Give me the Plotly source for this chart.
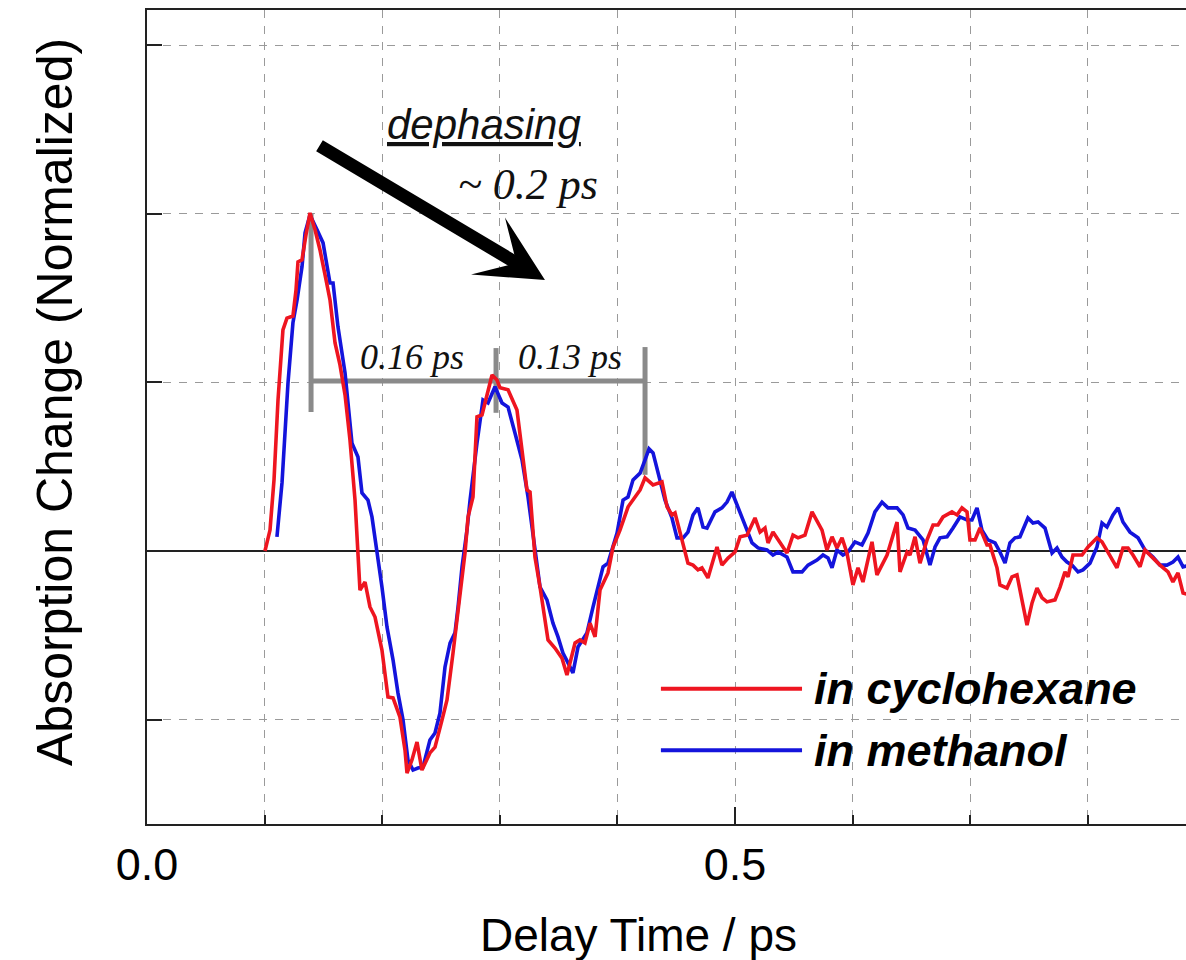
import plotly.graph_objects as go

# ---------------- data (delay time in ps, normalized absorption change) ----------------
cyc_t = [0.1003, 0.1046, 0.108, 0.1114, 0.1156, 0.119, 0.1241, 0.1267, 0.1284, 0.1318, 0.1352, 0.1386,
         0.1429, 0.1471, 0.1514, 0.1556, 0.1599, 0.1641, 0.1684, 0.1726, 0.1769, 0.1786, 0.1811, 0.1854,
         0.1896, 0.1939, 0.1998, 0.2049, 0.2092, 0.2151, 0.2194, 0.2211, 0.2253, 0.2296, 0.2338, 0.2406,
         0.2449, 0.2509, 0.2551, 0.2602, 0.2662, 0.2704, 0.273, 0.2772, 0.2806, 0.2849, 0.2934, 0.2976,
         0.3002, 0.307, 0.3146, 0.3231, 0.3257, 0.3299, 0.3342, 0.341, 0.3469, 0.3529, 0.3571, 0.364,
         0.3682, 0.3724, 0.3767, 0.381, 0.3852, 0.392, 0.3963, 0.4022, 0.4091, 0.4193, 0.4235, 0.4303,
         0.4379, 0.4422, 0.4464, 0.449, 0.4549, 0.46, 0.4643, 0.4685, 0.4719, 0.477, 0.4847, 0.4889,
         0.4941, 0.5, 0.5043, 0.5102, 0.517, 0.5213, 0.5255, 0.5281, 0.5323, 0.5383, 0.5442, 0.5493,
         0.5536, 0.5595, 0.5655, 0.574, 0.5782, 0.5825, 0.5867, 0.591, 0.5952, 0.6003, 0.6046, 0.6088,
         0.6165, 0.6207, 0.6293, 0.6378, 0.6403, 0.6463, 0.6488, 0.6531, 0.6573, 0.6633, 0.6684, 0.6726,
         0.6769, 0.6845, 0.6888, 0.693, 0.6973, 0.6998, 0.7041, 0.7083, 0.7143, 0.7168, 0.7228, 0.7253,
         0.7313, 0.7355, 0.7398, 0.744, 0.7483, 0.7526, 0.7568, 0.7611, 0.7653, 0.7721, 0.7764, 0.7806,
         0.7832, 0.7874, 0.7951, 0.8002, 0.8078, 0.8121, 0.8189, 0.8248, 0.8299, 0.8342, 0.8384, 0.8444,
         0.8486, 0.8554, 0.8614, 0.8682, 0.8724, 0.8767, 0.881, 0.8869]
cyc_a = [0.0, 0.062, 0.211, 0.448, 0.656, 0.691, 0.697, 0.774, 0.858, 0.864, 0.938, 1.003,
         0.953, 0.893, 0.819, 0.745, 0.617, 0.552, 0.463, 0.329, 0.151, 0.047, -0.116, -0.092,
         -0.166, -0.196, -0.294, -0.433, -0.436, -0.493, -0.591, -0.659, -0.62, -0.567, -0.65, -0.599,
         -0.582, -0.501, -0.442, -0.303, -0.125, -0.006, 0.101, 0.16, 0.398, 0.404, 0.522, 0.507,
         0.484, 0.478, 0.418, 0.181, 0.175, -0.018, -0.107, -0.264, -0.288, -0.318, -0.368, -0.273,
         -0.264, -0.273, -0.214, -0.255, -0.116, -0.065, 0.012, 0.062, 0.131, 0.181, 0.217, 0.196,
         0.205, 0.131, 0.107, 0.113, 0.033, -0.036, -0.042, -0.056, -0.05, -0.08, 0.012, -0.042,
         -0.021, -0.003, 0.042, 0.047, 0.098, 0.056, 0.068, 0.024, 0.056, 0.024, -0.006, 0.047,
         0.039, 0.047, 0.116, 0.062, 0.003, 0.042, 0.009, 0.039, -0.006, -0.101, -0.05, -0.092,
         0.027, -0.071, -0.012, 0.086, -0.062, -0.003, -0.012, 0.042, -0.036, 0.033, 0.077, 0.077,
         0.101, 0.116, 0.107, 0.128, 0.116, 0.033, 0.033, 0.068, 0.018, 0.018, -0.05, -0.101,
         -0.11, -0.077, -0.071, -0.145, -0.22, -0.154, -0.11, -0.139, -0.151, -0.145, -0.107, -0.062,
         -0.077, -0.012, -0.012, 0.012, 0.039, 0.027, -0.012, -0.05, 0.009, 0.009, -0.012, -0.047,
         0.003, -0.021, -0.042, -0.062, -0.092, -0.065, -0.125, -0.131]

met_t = [0.1105, 0.1148, 0.1199, 0.1241, 0.1276, 0.1318, 0.1344, 0.1386, 0.1446, 0.1497, 0.1556, 0.1582,
         0.1624, 0.1684, 0.1743, 0.1794, 0.1828, 0.1879, 0.1913, 0.1956, 0.1998, 0.2041, 0.2092, 0.2134,
         0.2177, 0.2219, 0.2262, 0.2304, 0.2347, 0.2406, 0.2449, 0.2491, 0.2534, 0.2577, 0.2619, 0.2645,
         0.2679, 0.2721, 0.2747, 0.2806, 0.2857, 0.29, 0.2959, 0.3019, 0.307, 0.3129, 0.3189, 0.324,
         0.3299, 0.3342, 0.3401, 0.3452, 0.3495, 0.3537, 0.358, 0.3622, 0.3665, 0.3741, 0.3793, 0.3852,
         0.3878, 0.392, 0.3997, 0.4048, 0.409, 0.4133, 0.4193, 0.4235, 0.4269, 0.4303, 0.4345, 0.4405,
         0.4464, 0.4507, 0.4558, 0.46, 0.4643, 0.4685, 0.4728, 0.4762, 0.4804, 0.483, 0.4889, 0.4932,
         0.4974, 0.5017, 0.5059, 0.5102, 0.5145, 0.5196, 0.5272, 0.5323, 0.5366, 0.5442, 0.5493, 0.557,
         0.5621, 0.5697, 0.5748, 0.5791, 0.5825, 0.5867, 0.5918, 0.5961, 0.602, 0.608, 0.6131, 0.619,
         0.625, 0.6301, 0.6378, 0.6429, 0.6471, 0.6531, 0.6599, 0.6658, 0.6701, 0.6743, 0.6803, 0.6854,
         0.6913, 0.6973, 0.7015, 0.7058, 0.71, 0.7151, 0.7211, 0.7253, 0.7296, 0.7338, 0.7381, 0.7423,
         0.7491, 0.7534, 0.7577, 0.7636, 0.7696, 0.7738, 0.7781, 0.7823, 0.7866, 0.7917, 0.7959, 0.8019,
         0.8078, 0.8121, 0.8163, 0.8214, 0.8257, 0.8299, 0.8359, 0.8427, 0.8486, 0.8554, 0.8614, 0.8673,
         0.8724, 0.8767, 0.881, 0.8869]
met_a = [0.042, 0.202, 0.499, 0.677, 0.745, 0.843, 0.944, 0.997, 0.953, 0.914, 0.795, 0.795,
         0.665, 0.528, 0.32, 0.279, 0.172, 0.151, 0.101, 0.003, -0.107, -0.226, -0.323, -0.421,
         -0.501, -0.62, -0.65, -0.644, -0.641, -0.561, -0.54, -0.481, -0.344, -0.273, -0.243, -0.166,
         -0.047, 0.062, 0.151, 0.32, 0.448, 0.439, 0.487, 0.439, 0.427, 0.35, 0.27, 0.16,
         0.012, -0.107, -0.145, -0.214, -0.255, -0.303, -0.332, -0.362, -0.285, -0.243, -0.166, -0.086,
         -0.047, -0.036, 0.053, 0.151, 0.16, 0.211, 0.231, 0.27, 0.303, 0.291, 0.231, 0.151,
         0.098, 0.039, 0.039, 0.056, 0.107, 0.128, 0.071, 0.068, 0.098, 0.116, 0.128, 0.145,
         0.175, 0.136, 0.101, 0.062, 0.024, 0.009, 0.003, -0.012, -0.003, -0.018, -0.062, -0.062,
         -0.042, -0.027, -0.012, -0.021, -0.05, 0.003, -0.012, -0.003, 0.027, 0.018, 0.053, 0.116,
         0.145, 0.128, 0.128, 0.107, 0.068, 0.062, 0.033, -0.042, 0.012, 0.039, 0.042, 0.068,
         0.101, 0.092, 0.092, 0.128, 0.062, 0.033, 0.024, -0.003, -0.036, 0.024, 0.039, 0.042,
         0.098, 0.083, 0.086, 0.068, -0.006, 0.009, -0.018, -0.033, -0.042, -0.062, -0.056, -0.036,
         0.012, 0.083, 0.071, 0.107, 0.128, 0.086, 0.056, 0.039, 0.003, -0.018, -0.042, -0.042,
         -0.033, -0.018, -0.047, -0.042]

series_names = ["in cyclohexane", "in methanol"]
series_colors = ["#ee1520", "#1414dc"]

x_tick_vals = [0.0, 0.1, 0.2, 0.3, 0.4, 0.5, 0.6, 0.7, 0.8]
x_tick_text = ["0.0", "", "", "", "", "0.5", "", "", ""]
y_tick_vals = [-0.5, 0.0, 0.5, 1.0, 1.5]

# period markers (ps, normalized)
peak_times = [0.1395, 0.2968, 0.4235]
period_level = 0.504
period_labels = ["0.16 ps", "0.13 ps"]

SANS = "Liberation Sans, Arial, sans-serif"
SERIF = "Liberation Serif, Times New Roman, serif"

fig = go.Figure()
# methanol first so cyclohexane is drawn on top, as in the reference
fig.add_trace(go.Scatter(x=met_t, y=met_a, mode="lines", name=series_names[1],
                         line=dict(color=series_colors[1], width=3.6), showlegend=False))
fig.add_trace(go.Scatter(x=cyc_t, y=cyc_a, mode="lines", name=series_names[0],
                         line=dict(color=series_colors[0], width=3.6), showlegend=False))

grey = "#8a8a8a"
shapes = [
    dict(type="line", x0=peak_times[0], x1=peak_times[0], y0=0.412, y1=1.003),
    dict(type="line", x0=peak_times[0], x1=peak_times[2], y0=period_level, y1=period_level),
    dict(type="line", x0=peak_times[1], x1=peak_times[1], y0=0.41, y1=0.602),
    dict(type="line", x0=peak_times[2], x1=peak_times[2], y0=0.226, y1=0.605),
]
for s in shapes:
    s.update(xref="x", yref="y", line=dict(color=grey, width=5), layer="between")
    fig.add_shape(**s)

# longer tick at 0.5
fig.add_shape(type="line", xref="x", yref="y domain", x0=0.5, x1=0.5, y0=0, y1=0.021,
              line=dict(color="#222", width=2))

# legend (drawn manually)
leg_x0, leg_x1, leg_text_x = 0.437, 0.557, 0.5655
leg_y = [-0.409, -0.591]
for name, col, yy in zip(series_names, series_colors, leg_y):
    fig.add_shape(type="line", xref="x", yref="y", x0=leg_x0, x1=leg_x1, y0=yy, y1=yy,
                  line=dict(color=col, width=4))
    fig.add_annotation(x=leg_text_x, y=yy, xref="x", yref="y", text=f"<b><i>{name}</i></b>",
                       showarrow=False, xanchor="left", yanchor="middle",
                       font=dict(family=SANS, size=45, color="black"))

# period labels
fig.add_annotation(x=0.2253, y=0.576, text=f"<i>{period_labels[0]}</i>", showarrow=False,
                   font=dict(family=SERIF, size=36, color="#111"))
fig.add_annotation(x=0.3597, y=0.576, text=f"<i>{period_labels[1]}</i>", showarrow=False,
                   font=dict(family=SERIF, size=36, color="#111"))

# dephasing arrow and labels
fig.add_annotation(x=0.3384, y=0.804, ax=0.1454, ay=1.205, xref="x", yref="y", axref="x", ayref="y",
                   text="", showarrow=True, arrowhead=3, arrowwidth=13, arrowsize=0.85,
                   arrowcolor="black", standoff=0, startstandoff=0)
fig.add_annotation(x=0.2866, y=1.264, text="<i><u>dephasing</u></i>", showarrow=False,
                   font=dict(family=SANS, size=42, color="#111"))
fig.add_annotation(x=0.3240, y=1.086, text="<i>~ 0.2 ps</i>", showarrow=False,
                   font=dict(family=SERIF, size=44, color="#111"))

# axis titles
fig.add_annotation(xref="paper", yref="paper", x=(638 - 147) / 1039, y=-(935 - 824) / 814,
                   text="Delay Time / ps", showarrow=False, xanchor="center", yanchor="middle",
                   font=dict(family=SANS, size=46, color="black"))
fig.add_annotation(xref="paper", yref="paper", x=-(147 - 55) / 1039, y=(824 - 402) / 814,
                   text="Absorption Change (Normalized)", showarrow=False, textangle=-90,
                   xanchor="center", yanchor="middle",
                   font=dict(family=SANS, size=50, color="black"))

fig.update_layout(
    width=1186, height=960,
    margin=dict(l=147, r=0, t=10, b=136),
    paper_bgcolor="white", plot_bgcolor="white",
    showlegend=False,
    xaxis=dict(range=[0, 1039 / 1176], tickvals=x_tick_vals, ticktext=x_tick_text,
               ticks="inside", ticklen=9, tickwidth=1.5, tickcolor="#222",
               showgrid=True, gridcolor="#9a9a9a", gridwidth=1, griddash="8px,8px",
               zeroline=False, showline=True, linecolor="#222", linewidth=2, mirror=True,
               tickfont=dict(family=SANS, size=45, color="black")),
    yaxis=dict(range=[-0.810, 1.605], tickvals=y_tick_vals, showticklabels=False,
               ticks="inside", ticklen=15, tickwidth=1.5, tickcolor="#222",
               showgrid=True, gridcolor="#9a9a9a", gridwidth=1, griddash="8px,8px",
               zeroline=True, zerolinecolor="#222", zerolinewidth=1.5,
               showline=True, linecolor="#222", linewidth=2),
)

fig.write_html("out.html")
